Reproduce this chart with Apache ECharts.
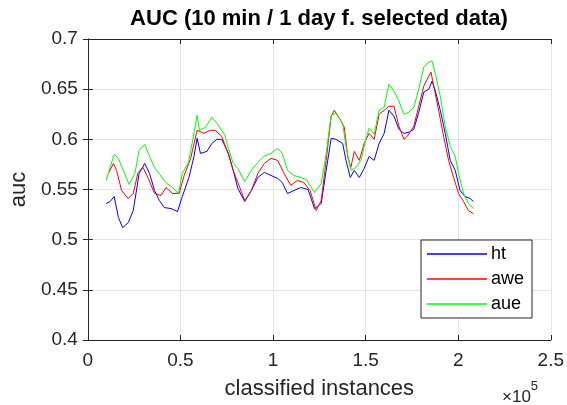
<!DOCTYPE html>
<html>
<head>
<meta charset="utf-8">
<script src="https://cdn.jsdelivr.net/npm/echarts@6/dist/echarts.min.js"></script>
<style>
  html, body { margin: 0; padding: 0; background: #fff; }
  #chart { width: 567px; height: 405px; }
</style>
</head>
<body>
<div id="chart"></div>
<script>
// x in classified instances, y = auc
const xHt = [9900, 12000, 14200, 16500, 18800, 21800, 24500, 27700, 30700, 33300, 36000, 38600, 41300, 44900, 48400, 51000, 54600, 57300, 59000, 60800, 64300, 67000, 69700, 72300, 75900, 78500, 81000, 84700, 88300, 91800, 95300, 98900, 102500, 105000, 107800, 111300, 114900, 118900, 122400, 126000, 128700, 131400, 134000, 137600, 139400, 141700, 143900, 146600, 149200, 151900, 154600, 157300, 160000, 162600, 165300, 168000, 170700, 173400, 176000, 178700, 181400, 184100, 185900, 187700, 190300, 193000, 195700, 198400, 201000, 203700, 206400, 208200];
const ht = [0.536, 0.538, 0.543, 0.522, 0.512, 0.517, 0.529, 0.566, 0.576, 0.566, 0.549, 0.539, 0.532, 0.531, 0.528, 0.543, 0.562, 0.583, 0.601, 0.586, 0.588, 0.596, 0.600, 0.600, 0.586, 0.569, 0.551, 0.538, 0.549, 0.562, 0.567, 0.564, 0.561, 0.557, 0.546, 0.549, 0.552, 0.550, 0.531, 0.536, 0.569, 0.601, 0.600, 0.596, 0.579, 0.562, 0.569, 0.562, 0.571, 0.583, 0.579, 0.596, 0.606, 0.629, 0.623, 0.610, 0.606, 0.607, 0.610, 0.627, 0.647, 0.650, 0.658, 0.648, 0.629, 0.606, 0.579, 0.569, 0.549, 0.543, 0.541, 0.538];

const xAwe = [11400, 13800, 15500, 18200, 21800, 24500, 27100, 29800, 32400, 36000, 39500, 42200, 45700, 49300, 52000, 55500, 59000, 62600, 66100, 68800, 72300, 75900, 78500, 81000, 84700, 88300, 91800, 95300, 98900, 102500, 106000, 109600, 113000, 116600, 120000, 123300, 126000, 128700, 131400, 133100, 135800, 138500, 140300, 142000, 143900, 146600, 149200, 151900, 154600, 157300, 160000, 162600, 165300, 168000, 170700, 172500, 176000, 178700, 181400, 184100, 185300, 186800, 189400, 192100, 194800, 197500, 200200, 202900, 205500, 208200];
const awe = [0.567, 0.576, 0.569, 0.549, 0.541, 0.546, 0.567, 0.572, 0.562, 0.546, 0.544, 0.552, 0.546, 0.546, 0.564, 0.581, 0.609, 0.606, 0.609, 0.609, 0.603, 0.585, 0.569, 0.557, 0.539, 0.549, 0.566, 0.576, 0.581, 0.579, 0.566, 0.554, 0.559, 0.557, 0.549, 0.529, 0.539, 0.579, 0.623, 0.629, 0.621, 0.612, 0.583, 0.572, 0.588, 0.579, 0.596, 0.606, 0.600, 0.625, 0.629, 0.633, 0.633, 0.613, 0.600, 0.603, 0.613, 0.633, 0.653, 0.663, 0.667, 0.653, 0.629, 0.603, 0.579, 0.562, 0.546, 0.538, 0.529, 0.526];

const xAue = [9900, 12000, 14200, 16500, 19100, 22300, 25400, 27700, 30700, 33300, 36000, 38800, 42000, 45700, 48900, 51000, 54300, 56700, 59000, 60300, 63500, 67000, 69700, 72300, 74000, 75900, 78500, 81000, 84700, 88300, 91800, 95000, 98900, 102500, 105000, 107800, 111300, 114900, 118000, 122400, 126000, 128700, 131400, 134000, 137600, 139400, 142000, 144800, 147500, 150100, 151900, 154600, 157300, 160000, 162600, 165300, 168000, 170700, 173400, 176000, 178700, 181400, 184100, 185900, 187700, 190300, 193000, 195700, 198400, 200200, 202900, 205500, 208200];
const aue = [0.559, 0.572, 0.585, 0.581, 0.569, 0.555, 0.566, 0.589, 0.595, 0.583, 0.572, 0.565, 0.557, 0.552, 0.546, 0.566, 0.577, 0.600, 0.624, 0.609, 0.612, 0.622, 0.616, 0.609, 0.604, 0.591, 0.576, 0.571, 0.558, 0.569, 0.577, 0.583, 0.586, 0.591, 0.586, 0.569, 0.564, 0.562, 0.560, 0.547, 0.556, 0.586, 0.624, 0.626, 0.616, 0.593, 0.569, 0.572, 0.579, 0.600, 0.611, 0.605, 0.629, 0.632, 0.655, 0.648, 0.638, 0.625, 0.627, 0.632, 0.650, 0.672, 0.677, 0.678, 0.665, 0.643, 0.613, 0.593, 0.583, 0.566, 0.546, 0.536, 0.531];

const xTicks = [0, 50000, 100000, 150000, 200000, 250000];
const yTicks = [0.4, 0.45, 0.5, 0.55, 0.6, 0.65, 0.7];

const zip = (xs, ys) => xs.map((x, i) => [x, ys[i]]);

const chart = echarts.init(document.getElementById('chart'));
const font = 'Liberation Sans, Arial, sans-serif';
const axisColor = '#262626';
const lineIcon = 'path://M0,0H60V1.4H0Z';

const option = {
  animation: false,
  backgroundColor: '#fff',
  title: {
    text: 'AUC (10 min / 1 day f. selected data)',
    left: 319,
    top: 8,
    textAlign: 'center',
    padding: 0,
    textStyle: { fontFamily: font, fontSize: 22, fontWeight: 'bold', color: '#000' }
  },
  grid: { left: 85, right: 16, top: 39, bottom: 65 },
  legend: {
    orient: 'vertical',
    left: 421,
    top: 240,
    padding: [5, 8, 5, 6],
    itemWidth: 60,
    itemHeight: 2,
    itemGap: 7,
    icon: lineIcon,
    backgroundColor: '#fff',
    borderColor: '#262626',
    borderWidth: 1,
    borderRadius: 0,
    textStyle: { fontFamily: font, fontSize: 18, color: '#000', lineHeight: 18, padding: [0, 0, 0, -1] },
    data: ['ht', 'awe', 'aue']
  },
  xAxis: [{
    type: 'value',
    min: 0,
    max: 250000,
    interval: 50000,
    name: 'classified instances',
    nameLocation: 'middle',
    nameGap: 38,
    nameTextStyle: { fontFamily: font, fontSize: 22, color: axisColor },
    axisLine: { show: true, lineStyle: { color: axisColor, width: 1 } },
    axisTick: { show: true, inside: true, length: 5, lineStyle: { color: axisColor } },
    axisLabel: {
      fontFamily: font, fontSize: 19, color: axisColor, margin: 11,
      formatter: v => xTicks.includes(v) ? String(v / 100000) : ''
    },
    splitLine: { show: true, lineStyle: { color: '#e3e3e3', width: 1 } }
  }, {
    type: 'value',
    position: 'top',
    min: 0,
    max: 250000,
    interval: 50000,
    axisLine: { show: true, lineStyle: { color: axisColor, width: 1 } },
    axisTick: { show: true, inside: true, length: 5, lineStyle: { color: axisColor } },
    axisLabel: { show: false },
    splitLine: { show: false }
  }],
  yAxis: [{
    type: 'value',
    min: 0.4,
    max: 0.7,
    interval: 0.05,
    name: 'auc',
    nameLocation: 'middle',
    nameGap: 54,
    nameTextStyle: { fontFamily: font, fontSize: 22, color: axisColor },
    axisLine: { show: true, lineStyle: { color: axisColor, width: 1 } },
    axisTick: { show: true, inside: true, length: 5, lineStyle: { color: axisColor } },
    axisLabel: {
      fontFamily: font, fontSize: 19, color: axisColor, margin: 10,
      formatter: v => {
        const t = yTicks.find(k => Math.abs(k - v) < 1e-9);
        return t === undefined ? '' : String(t);
      }
    },
    splitLine: { show: true, lineStyle: { color: '#e3e3e3', width: 1 } }
  }, {
    type: 'value',
    position: 'right',
    min: 0.4,
    max: 0.7,
    interval: 0.05,
    axisLine: { show: true, lineStyle: { color: axisColor, width: 1 } },
    axisTick: { show: true, inside: true, length: 5, lineStyle: { color: axisColor } },
    axisLabel: { show: false },
    splitLine: { show: false }
  }],
  graphic: [{
    type: 'text',
    left: 502,
    top: 380,
    style: {
      text: '{a|×10}{b|5}',
      rich: {
        a: { fontFamily: font, fontSize: 17, fill: axisColor, padding: [9, 0, 0, 0] },
        b: { fontFamily: font, fontSize: 13, fill: axisColor, verticalAlign: 'top' }
      }
    }
  }],
  series: [
    { name: 'ht', type: 'line', data: zip(xHt, ht), symbol: 'none', lineStyle: { color: '#0000ff', width: 1 }, itemStyle: { color: '#0000ff' } },
    { name: 'awe', type: 'line', data: zip(xAwe, awe), symbol: 'none', lineStyle: { color: '#ff0000', width: 1 }, itemStyle: { color: '#ff0000' } },
    { name: 'aue', type: 'line', data: zip(xAue, aue), symbol: 'none', lineStyle: { color: '#00ff00', width: 1 }, itemStyle: { color: '#00ff00' } }
  ]
};

chart.setOption(option);
</script>
</body>
</html>
